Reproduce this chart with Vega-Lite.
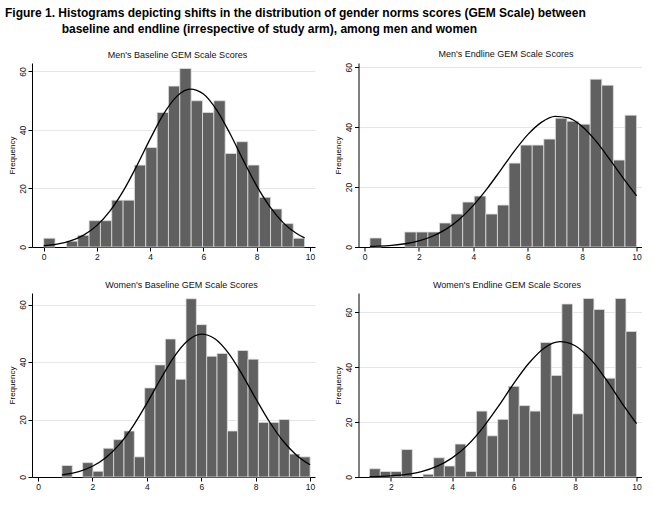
{
  "$schema": "https://vega.github.io/schema/vega-lite/v6.json",
  "padding": {"left": 5, "top": 7, "right": 5, "bottom": 5},
  "background": "white",
  "title": {
    "text": ["Figure 1. Histograms depicting shifts in the distribution of gender norms scores (GEM Scale) between", "\u200b\u00a0\u00a0\u00a0\u00a0\u00a0\u00a0\u00a0\u00a0\u00a0\u00a0\u00a0\u00a0\u00a0\u00a0\u00a0\u00a0\u00a0baseline and endline (irrespective of study arm), among men and women"],
    "anchor": "start",
    "frame": "bounds",
    "font": "Liberation Sans",
    "fontSize": 12,
    "fontWeight": "bold",
    "lineHeight": 16,
    "color": "#000",
    "dx": -3,
    "offset": 14
  },
  "datasets": {
    "bars": [
      {"p":1,"lo":0,"hi":0.426,"n":3},{"p":1,"lo":0.852,"hi":1.278,"n":2},{"p":1,"lo":1.278,"hi":1.704,"n":4},{"p":1,"lo":1.704,"hi":2.13,"n":9},{"p":1,"lo":2.13,"hi":2.556,"n":9},{"p":1,"lo":2.556,"hi":2.982,"n":16},{"p":1,"lo":2.982,"hi":3.408,"n":16},{"p":1,"lo":3.408,"hi":3.834,"n":28},{"p":1,"lo":3.834,"hi":4.26,"n":34},{"p":1,"lo":4.26,"hi":4.686,"n":46},{"p":1,"lo":4.686,"hi":5.112,"n":55},{"p":1,"lo":5.112,"hi":5.538,"n":61},{"p":1,"lo":5.538,"hi":5.964,"n":50},{"p":1,"lo":5.964,"hi":6.39,"n":46},{"p":1,"lo":6.39,"hi":6.816,"n":50},{"p":1,"lo":6.816,"hi":7.242,"n":32},{"p":1,"lo":7.242,"hi":7.668,"n":36},{"p":1,"lo":7.668,"hi":8.094,"n":28},{"p":1,"lo":8.094,"hi":8.52,"n":17},{"p":1,"lo":8.52,"hi":8.946,"n":13},{"p":1,"lo":8.946,"hi":9.372,"n":8},{"p":1,"lo":9.372,"hi":9.8,"n":3},
      {"p":2,"lo":0.2,"hi":0.626,"n":3},{"p":2,"lo":1.478,"hi":1.904,"n":5},{"p":2,"lo":1.904,"hi":2.33,"n":5},{"p":2,"lo":2.33,"hi":2.756,"n":5},{"p":2,"lo":2.756,"hi":3.182,"n":8},{"p":2,"lo":3.182,"hi":3.608,"n":11},{"p":2,"lo":3.608,"hi":4.034,"n":15},{"p":2,"lo":4.034,"hi":4.46,"n":17},{"p":2,"lo":4.46,"hi":4.886,"n":11},{"p":2,"lo":4.886,"hi":5.312,"n":14},{"p":2,"lo":5.312,"hi":5.738,"n":28},{"p":2,"lo":5.738,"hi":6.164,"n":34},{"p":2,"lo":6.164,"hi":6.59,"n":34},{"p":2,"lo":6.59,"hi":7.016,"n":36},{"p":2,"lo":7.016,"hi":7.442,"n":43},{"p":2,"lo":7.442,"hi":7.868,"n":42},{"p":2,"lo":7.868,"hi":8.294,"n":41},{"p":2,"lo":8.294,"hi":8.72,"n":56},{"p":2,"lo":8.72,"hi":9.146,"n":54},{"p":2,"lo":9.146,"hi":9.572,"n":29},{"p":2,"lo":9.572,"hi":10,"n":44},
      {"p":3,"lo":0.88,"hi":1.26,"n":4},{"p":3,"lo":1.64,"hi":2.02,"n":5},{"p":3,"lo":2.02,"hi":2.4,"n":2},{"p":3,"lo":2.4,"hi":2.78,"n":10},{"p":3,"lo":2.78,"hi":3.16,"n":13},{"p":3,"lo":3.16,"hi":3.54,"n":16},{"p":3,"lo":3.54,"hi":3.92,"n":7},{"p":3,"lo":3.92,"hi":4.3,"n":31},{"p":3,"lo":4.3,"hi":4.68,"n":39},{"p":3,"lo":4.68,"hi":5.06,"n":48},{"p":3,"lo":5.06,"hi":5.44,"n":34},{"p":3,"lo":5.44,"hi":5.82,"n":62},{"p":3,"lo":5.82,"hi":6.2,"n":53},{"p":3,"lo":6.2,"hi":6.58,"n":42},{"p":3,"lo":6.58,"hi":6.96,"n":43},{"p":3,"lo":6.96,"hi":7.34,"n":16},{"p":3,"lo":7.34,"hi":7.72,"n":44},{"p":3,"lo":7.72,"hi":8.1,"n":41},{"p":3,"lo":8.1,"hi":8.48,"n":19},{"p":3,"lo":8.48,"hi":8.86,"n":19},{"p":3,"lo":8.86,"hi":9.24,"n":20},{"p":3,"lo":9.24,"hi":9.62,"n":8},{"p":3,"lo":9.62,"hi":10,"n":7},
      {"p":4,"lo":1.31,"hi":1.658,"n":3},{"p":4,"lo":1.658,"hi":2.005,"n":2},{"p":4,"lo":2.005,"hi":2.353,"n":2},{"p":4,"lo":2.353,"hi":2.701,"n":10},{"p":4,"lo":3.049,"hi":3.396,"n":1},{"p":4,"lo":3.396,"hi":3.744,"n":7},{"p":4,"lo":3.744,"hi":4.092,"n":4},{"p":4,"lo":4.092,"hi":4.439,"n":12},{"p":4,"lo":4.439,"hi":4.787,"n":2},{"p":4,"lo":4.787,"hi":5.135,"n":24},{"p":4,"lo":5.135,"hi":5.482,"n":15},{"p":4,"lo":5.482,"hi":5.83,"n":21},{"p":4,"lo":5.83,"hi":6.178,"n":33},{"p":4,"lo":6.178,"hi":6.526,"n":26},{"p":4,"lo":6.526,"hi":6.873,"n":24},{"p":4,"lo":6.873,"hi":7.221,"n":49},{"p":4,"lo":7.221,"hi":7.569,"n":37},{"p":4,"lo":7.569,"hi":7.916,"n":63},{"p":4,"lo":7.916,"hi":8.264,"n":23},{"p":4,"lo":8.264,"hi":8.612,"n":65},{"p":4,"lo":8.612,"hi":8.959,"n":61},{"p":4,"lo":8.959,"hi":9.307,"n":36},{"p":4,"lo":9.307,"hi":9.655,"n":65},{"p":4,"lo":9.655,"hi":10,"n":53}
    ],
    "curve": [
      {"p":1,"x":0,"y":0.42},{"p":1,"x":0.5,"y":0.97},{"p":1,"x":1,"y":2.06},{"p":1,"x":1.5,"y":4.06},{"p":1,"x":2,"y":7.39},{"p":1,"x":2.5,"y":12.44},{"p":1,"x":3,"y":19.35},{"p":1,"x":3.5,"y":27.8},{"p":1,"x":4,"y":36.96},{"p":1,"x":4.5,"y":45.4},{"p":1,"x":5,"y":51.5},{"p":1,"x":5.5,"y":53.98},{"p":1,"x":6,"y":52.3},{"p":1,"x":6.5,"y":46.8},{"p":1,"x":7,"y":38.7},{"p":1,"x":7.5,"y":29.6},{"p":1,"x":8,"y":20.9},{"p":1,"x":8.5,"y":13.7},{"p":1,"x":9,"y":8.26},{"p":1,"x":9.5,"y":4.6},{"p":1,"x":9.8,"y":3.12},
      {"p":2,"x":0.2,"y":0.16},{"p":2,"x":0.5,"y":0.26},{"p":2,"x":1,"y":0.55},{"p":2,"x":1.5,"y":1.09},{"p":2,"x":2,"y":2.04},{"p":2,"x":2.5,"y":3.59},{"p":2,"x":3,"y":5.97},{"p":2,"x":3.5,"y":9.37},{"p":2,"x":4,"y":13.9},{"p":2,"x":4.5,"y":19.4},{"p":2,"x":5,"y":25.6},{"p":2,"x":5.5,"y":31.9},{"p":2,"x":6,"y":37.5},{"p":2,"x":6.5,"y":41.6},{"p":2,"x":7,"y":43.6},{"p":2,"x":7.5,"y":43.1},{"p":2,"x":8,"y":40.2},{"p":2,"x":8.5,"y":35.4},{"p":2,"x":9,"y":29.4},{"p":2,"x":9.5,"y":23.1},{"p":2,"x":10,"y":17.1},
      {"p":3,"x":0.88,"y":0.73},{"p":3,"x":1,"y":0.89},{"p":3,"x":1.5,"y":1.89},{"p":3,"x":2,"y":3.74},{"p":3,"x":2.5,"y":6.8},{"p":3,"x":3,"y":11.45},{"p":3,"x":3.5,"y":17.8},{"p":3,"x":4,"y":25.6},{"p":3,"x":4.5,"y":34.0},{"p":3,"x":5,"y":41.8},{"p":3,"x":5.5,"y":47.4},{"p":3,"x":6,"y":49.7},{"p":3,"x":6.5,"y":48.1},{"p":3,"x":7,"y":43.1},{"p":3,"x":7.5,"y":35.7},{"p":3,"x":8,"y":27.3},{"p":3,"x":8.5,"y":19.3},{"p":3,"x":9,"y":12.6},{"p":3,"x":9.5,"y":7.6},{"p":3,"x":10,"y":4.24},
      {"p":4,"x":1.31,"y":0.12},{"p":4,"x":1.5,"y":0.17},{"p":4,"x":2,"y":0.41},{"p":4,"x":2.5,"y":0.94},{"p":4,"x":3,"y":1.98},{"p":4,"x":3.5,"y":3.87},{"p":4,"x":4,"y":6.97},{"p":4,"x":4.5,"y":11.6},{"p":4,"x":5,"y":18.0},{"p":4,"x":5.5,"y":25.7},{"p":4,"x":6,"y":34.0},{"p":4,"x":6.5,"y":41.5},{"p":4,"x":7,"y":47.0},{"p":4,"x":7.5,"y":49.3},{"p":4,"x":8,"y":47.8},{"p":4,"x":8.5,"y":42.9},{"p":4,"x":9,"y":35.6},{"p":4,"x":9.5,"y":27.3},{"p":4,"x":10,"y":19.4}
    ]
  },
  "vconcat": [
    {
      "spacing": 19.5,
      "hconcat": [
        {
          "width": 283, "height": 184,
          "title": {"text": "Men's Baseline GEM Scale Scores", "dx": 4},
          "layer": [
            {"data": {"name": "bars"}, "transform": [{"filter": "datum.p == 1"}],
             "mark": {"type": "rect", "fill": "#606060", "stroke": "#dedede", "strokeWidth": 0.8},
             "encoding": {
               "x": {"field": "lo", "type": "quantitative", "scale": {"domain": [-0.44, 10.19], "nice": false, "zero": false}, "axis": {"values": [0,2,4,6,8,10], "title": null}},
               "x2": {"field": "hi"},
               "y": {"field": "n", "type": "quantitative", "scale": {"domain": [0, 62.9], "nice": false}, "axis": {"values": [0,20,40,60], "title": "Frequency"}},
               "y2": {"datum": 0}}},
            {"data": {"name": "curve"}, "transform": [{"filter": "datum.p == 1"}],
             "mark": {"type": "line", "color": "#000", "strokeWidth": 1.3, "interpolate": "monotone"},
             "encoding": {"x": {"field": "x", "type": "quantitative"}, "y": {"field": "y", "type": "quantitative"}}}
          ]
        },
        {
          "width": 283, "height": 184,
          "title": {"text": "Men's Endline GEM Scale Scores", "dx": 6},
          "layer": [
            {"data": {"name": "bars"}, "transform": [{"filter": "datum.p == 2"}],
             "mark": {"type": "rect", "fill": "#606060", "stroke": "#dedede", "strokeWidth": 0.8},
             "encoding": {
               "x": {"field": "lo", "type": "quantitative", "scale": {"domain": [-0.22, 10.18], "nice": false, "zero": false}, "axis": {"values": [0,2,4,6,8,10], "title": null}},
               "x2": {"field": "hi"},
               "y": {"field": "n", "type": "quantitative", "scale": {"domain": [0, 61.4], "nice": false}, "axis": {"values": [0,20,40,60], "title": "Frequency"}},
               "y2": {"datum": 0}}},
            {"data": {"name": "curve"}, "transform": [{"filter": "datum.p == 2"}],
             "mark": {"type": "line", "color": "#000", "strokeWidth": 1.3, "interpolate": "monotone"},
             "encoding": {"x": {"field": "x", "type": "quantitative"}, "y": {"field": "y", "type": "quantitative"}}}
          ]
        }
      ]
    },
    {
      "spacing": 19.5,
      "hconcat": [
        {
          "width": 283, "height": 184,
          "title": {"text": "Women's Baseline GEM Scale Scores", "dx": 8},
          "layer": [
            {"data": {"name": "bars"}, "transform": [{"filter": "datum.p == 3"}],
             "mark": {"type": "rect", "fill": "#606060", "stroke": "#dedede", "strokeWidth": 0.8},
             "encoding": {
               "x": {"field": "lo", "type": "quantitative", "scale": {"domain": [-0.22, 10.18], "nice": false, "zero": false}, "axis": {"values": [0,2,4,6,8,10], "title": null}},
               "x2": {"field": "hi"},
               "y": {"field": "n", "type": "quantitative", "scale": {"domain": [0, 64], "nice": false}, "axis": {"values": [0,20,40,60], "title": "Frequency"}},
               "y2": {"datum": 0}}},
            {"data": {"name": "curve"}, "transform": [{"filter": "datum.p == 3"}],
             "mark": {"type": "line", "color": "#000", "strokeWidth": 1.3, "interpolate": "monotone"},
             "encoding": {"x": {"field": "x", "type": "quantitative"}, "y": {"field": "y", "type": "quantitative"}}}
          ]
        },
        {
          "width": 283, "height": 184,
          "title": {"text": "Women's Endline GEM Scale Scores", "dx": 7},
          "layer": [
            {"data": {"name": "bars"}, "transform": [{"filter": "datum.p == 4"}],
             "mark": {"type": "rect", "fill": "#606060", "stroke": "#dedede", "strokeWidth": 0.8},
             "encoding": {
               "x": {"field": "lo", "type": "quantitative", "scale": {"domain": [0.95, 10.16], "nice": false, "zero": false}, "axis": {"values": [2,4,6,8,10], "title": null}},
               "x2": {"field": "hi"},
               "y": {"field": "n", "type": "quantitative", "scale": {"domain": [0, 67], "nice": false}, "axis": {"values": [0,20,40,60], "title": "Frequency"}},
               "y2": {"datum": 0}}},
            {"data": {"name": "curve"}, "transform": [{"filter": "datum.p == 4"}],
             "mark": {"type": "line", "color": "#000", "strokeWidth": 1.3, "interpolate": "monotone"},
             "encoding": {"x": {"field": "x", "type": "quantitative"}, "y": {"field": "y", "type": "quantitative"}}}
          ]
        }
      ]
    }
  ],
  "spacing": 20,
  "config": {
    "font": "Liberation Sans",
    "view": {"stroke": null},
    "axis": {"domainColor": "#000", "tickColor": "#000", "labelColor": "#111", "labelFontSize": 8.5, "titleFontSize": 8, "titleFontWeight": "normal", "titleColor": "#000", "tickSize": 4, "labelPadding": 1, "grid": false},
    "axisY": {"grid": true, "gridColor": "#e6e6e6", "labelAngle": 270, "titlePadding": 2},
    "axisX": {"labelPadding": 1},
    "title": {"fontSize": 9, "fontWeight": "normal", "color": "#111", "offset": 3}
  }
}
